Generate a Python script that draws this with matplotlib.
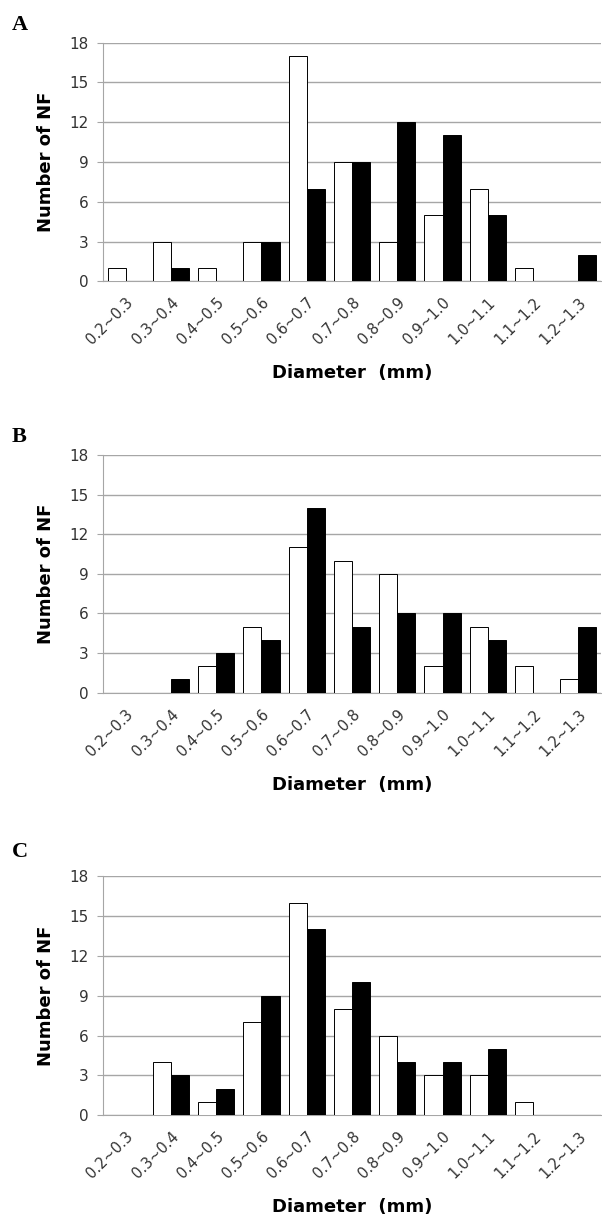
import numpy as np
import matplotlib.pyplot as plt

# -------------------------------
# Data (counts per diameter bin)
# -------------------------------
bins = ["0.2~0.3", "0.3~0.4", "0.4~0.5", "0.5~0.6", "0.6~0.7", "0.7~0.8",
        "0.8~0.9", "0.9~1.0", "1.0~1.1", "1.1~1.2", "1.2~1.3"]

a_white = [1, 3, 1, 3, 17, 9, 3, 5, 7, 1, 0]
a_black = [0, 1, 0, 3, 7, 9, 12, 11, 5, 0, 2]

b_white = [0, 0, 2, 5, 11, 10, 9, 2, 5, 2, 1]
b_black = [0, 1, 3, 4, 14, 5, 6, 6, 4, 0, 5]

c_white = [0, 4, 1, 7, 16, 8, 6, 3, 3, 1, 0]
c_black = [0, 3, 2, 9, 14, 10, 4, 4, 5, 0, 0]

panels = [("A", a_white, a_black), ("B", b_white, b_black), ("C", c_white, c_black)]

W, H = 602, 1218
fig = plt.figure(figsize=(W / 100, H / 100), dpi=100)

# axes box in pixels: (top, bottom) for each panel
boxes = [(42.7, 281.3), (455, 692.7), (876, 1115.3)]
letter_y = [25, 437, 852]
left_px, right_px = 103, 601

grid_col = "#a6a6a6"
x = np.arange(len(bins))

for (name, white, black), (top, bot), ly in zip(panels, boxes, letter_y):
    ax = fig.add_axes([left_px / W, 1 - bot / H, (right_px - left_px) / W, (bot - top) / H])
    ax.bar(x - 0.2, white, width=0.4, color="white", edgecolor="black", linewidth=0.7, zorder=3)
    ax.bar(x + 0.2, black, width=0.4, color="black", edgecolor="black", linewidth=0.7, zorder=3)

    ax.set_xlim(-0.5, len(bins) - 0.5)
    ax.set_ylim(0, 18)
    ax.set_yticks(range(0, 19, 3))
    ax.yaxis.grid(True, color=grid_col, linewidth=1.0, zorder=0)
    ax.set_axisbelow(True)

    for s in ["top", "right"]:
        ax.spines[s].set_visible(False)
    ax.spines["left"].set_color(grid_col)
    ax.spines["bottom"].set_color(grid_col)

    ax.tick_params(axis="y", length=4.5, color=grid_col, pad=6, labelsize=11, labelcolor="#333333")
    ax.tick_params(axis="x", length=0, pad=10, labelsize=10.5, labelcolor="#333333")
    ax.set_xticks(x)
    ax.set_xticklabels(bins, rotation=45, ha="right", rotation_mode="anchor")

    ax.set_ylabel("Number of NF", fontsize=13, fontweight="bold", labelpad=10)
    ax.set_xlabel("Diameter  (mm)", fontsize=13, fontweight="bold", labelpad=12)

    fig.text(12 / W, 1 - ly / H, name, fontsize=16, fontweight="bold",
             family="Liberation Serif", va="center", ha="left")

fig.savefig("out.png", dpi=100)
